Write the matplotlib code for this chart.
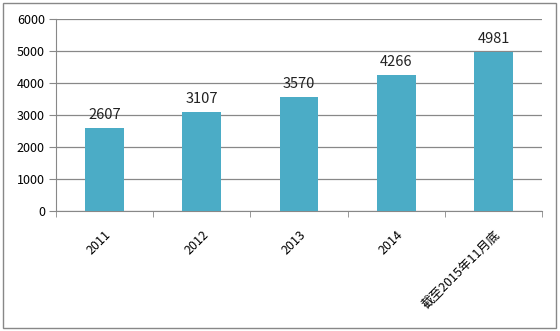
import numpy as np
import matplotlib.pyplot as plt
from matplotlib.patches import Rectangle

plt.rcParams['font.family'] = ['Noto Sans CJK SC', 'DejaVu Sans']

# data
categories = ['2011', '2012', '2013', '2014', '截至2015年11月底']
values = [2607, 3107, 3570, 4266, 4981]

fig = plt.figure(figsize=(5.6, 3.31), dpi=100)
ax = fig.add_axes([0.1, 0.3625, 0.868, 0.58])

x = np.arange(len(categories))
ax.bar(x, values, width=0.4, color='#4bacc6', zorder=3)

for xi, v in zip(x, values):
    ax.text(xi, v + 170, str(v), ha='center', va='bottom', fontsize=10.5, color='#222222')

ax.set_xlim(-0.5, len(categories) - 0.5)
ax.set_ylim(0, 6000)
ax.set_yticks(range(0, 6001, 1000))
ax.grid(axis='y', color='#888888', linewidth=0.9, zorder=0)

# category labels at centres, tick marks at boundaries
ax.set_xticks(x)
ax.set_xticklabels(categories, rotation=45, ha='right', rotation_mode='anchor', fontsize=9)
ax.set_xticks(np.arange(-0.5, len(categories)), minor=True)
ax.tick_params(axis='x', which='major', length=0, pad=12)
ax.tick_params(axis='x', which='minor', length=4, color='#888888')
ax.tick_params(axis='y', length=5, color='#888888', labelsize=9, pad=3)

for s in ['top', 'right']:
    ax.spines[s].set_visible(False)
for s in ['left', 'bottom']:
    ax.spines[s].set_color('#888888')

# outer chart border
fig.patches.append(Rectangle((0.006, 0.01), 0.987, 0.98, transform=fig.transFigure,
                             fill=False, edgecolor='#888888', linewidth=1))

plt.savefig('out.png', dpi=100)
